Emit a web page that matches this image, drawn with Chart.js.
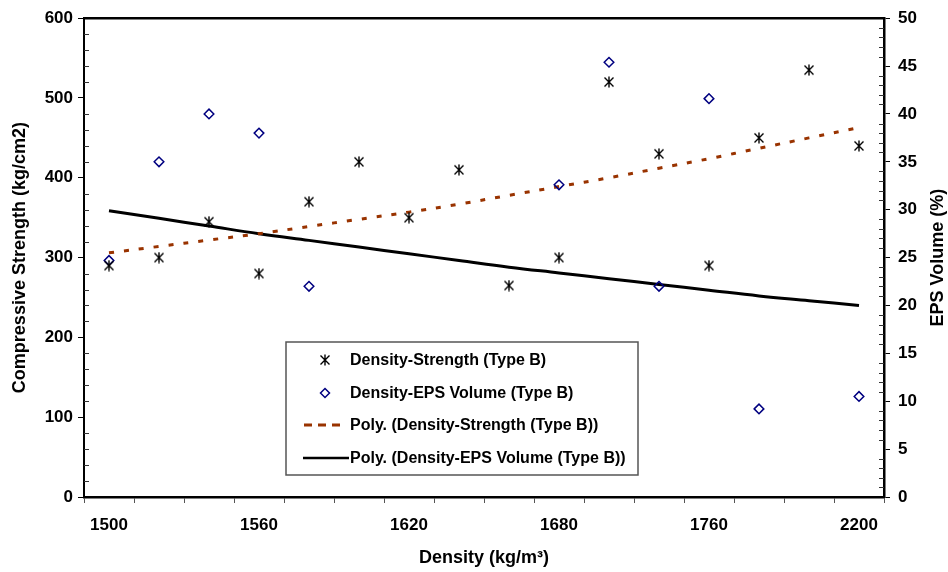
<!DOCTYPE html>
<html>
<head>
<meta charset="utf-8">
<script src="https://cdn.jsdelivr.net/npm/chart.js@4/dist/chart.umd.min.js"></script>
<style>
  html, body { margin: 0; padding: 0; background: #fff; }
  #wrap { width: 948px; height: 572px; }
</style>
</head>
<body>
<div id="wrap"><canvas id="chart" width="948" height="572"></canvas></div>
<script>
// === Datos ===
const densities = ['1500', '1520', '1540', '1560', '1580', '1600', '1620', '1640',
                   '1660', '1680', '1700', '1720', '1760', '1800', '2000', '2200'];
const labelEvery = 3;   // sólo 1500, 1560, 1620, 1680, 1760, 2200 visibles

const strength = [290, 300, 345, 280, 370, 420, 350, 410, 265, 300, 520, 430, 290, 450, 535, 440];
const epsVolume = [24.7, 35, 40, 38, 22, null, null, null, null, 32.6, 45.4, 22, 41.6, 9.2, null, 10.5];

// líneas de tendencia polinómica
const strengthTrend = [306, 314, 322, 330, 339, 348, 357, 367, 378, 389, 400, 412, 424, 437, 450, 463];
const epsTrend = [29.9, 29.1, 28.3, 27.5, 26.8, 26.1, 25.4, 24.7, 24.0, 23.4, 22.8, 22.2, 21.6, 21.0, 20.5, 20.0];

const leftTicks = { min: 0, max: 600, step: 100, minor: 20 };
const rightTicks = { min: 0, max: 50, step: 5, minor: 1 };

const seriesNames = [
  'Density-Strength (Type B)',
  'Density-EPS Volume (Type B)',
  'Poly. (Density-Strength (Type B))',
  'Poly. (Density-EPS Volume (Type B))'
];

const FONT = "'Liberation Sans', Arial, sans-serif";
Chart.defaults.font.family = FONT;
Chart.defaults.font.size = 17;
Chart.defaults.font.weight = 'bold';
Chart.defaults.color = '#000';

// marcador estrella estilo Excel
function makeStar() {
  const c = document.createElement('canvas');
  c.width = 12; c.height = 12;
  const g = c.getContext('2d');
  g.strokeStyle = '#000';
  g.lineWidth = 1.4;
  g.beginPath();
  g.moveTo(1.5, 1.5); g.lineTo(10.5, 10.5);
  g.moveTo(10.5, 1.5); g.lineTo(1.5, 10.5);
  g.moveTo(6, 0.5); g.lineTo(6, 11.5);
  g.stroke();
  return c;
}
const starImg = makeStar();

// marco superior, ticks menores y título del eje derecho
const frameAndMinor = {
  id: 'frameAndMinor',
  afterDraw(chart) {
    const { ctx, chartArea: a, scales } = chart;
    ctx.save();
    ctx.strokeStyle = '#000';
    ctx.lineWidth = 2.5;
    ctx.beginPath();
    ctx.moveTo(a.left - 1, a.top);
    ctx.lineTo(a.right + 1, a.top);
    ctx.stroke();

    ctx.lineWidth = 1;
    ctx.strokeStyle = '#333';
    ctx.beginPath();
    for (let v = leftTicks.min; v <= leftTicks.max; v += leftTicks.minor) {
      if (v % leftTicks.step === 0) continue;
      const y = Math.round(scales.y.getPixelForValue(v)) + 0.5;
      ctx.moveTo(a.left, y); ctx.lineTo(a.left + 5, y);
    }
    for (let v = rightTicks.min; v <= rightTicks.max; v += rightTicks.minor) {
      if (v % rightTicks.step === 0) continue;
      const y = Math.round(scales.y1.getPixelForValue(v)) + 0.5;
      ctx.moveTo(a.right - 5, y); ctx.lineTo(a.right, y);
    }
    ctx.stroke();

    ctx.fillStyle = '#000';
    ctx.font = 'bold 18px ' + FONT;
    ctx.textAlign = 'center';
    ctx.textBaseline = 'middle';
    ctx.translate(938, (a.top + a.bottom) / 2);
    ctx.rotate(-Math.PI / 2);
    ctx.fillText('EPS Volume (%)', 0, 0);
    ctx.restore();
  }
};

// leyenda dentro del área del gráfico
const boxLegend = {
  id: 'boxLegend',
  afterDraw(chart) {
    const ctx = chart.ctx;
    const x0 = 286, y0 = 342, w = 352, h = 133;
    const rows = [360, 393, 425, 458];
    ctx.save();
    ctx.fillStyle = '#fff';
    ctx.fillRect(x0, y0, w, h);
    ctx.strokeStyle = '#555';
    ctx.lineWidth = 1.5;
    ctx.strokeRect(x0, y0, w, h);

    ctx.drawImage(starImg, 325 - 6, rows[0] - 6);

    ctx.strokeStyle = '#000080';
    ctx.lineWidth = 1.5;
    ctx.beginPath();
    ctx.moveTo(325, rows[1] - 4.5); ctx.lineTo(329.5, rows[1]);
    ctx.lineTo(325, rows[1] + 4.5); ctx.lineTo(320.5, rows[1]);
    ctx.closePath();
    ctx.stroke();

    ctx.strokeStyle = '#993300';
    ctx.lineWidth = 3;
    ctx.setLineDash([8, 6]);
    ctx.beginPath();
    ctx.moveTo(304, rows[2]); ctx.lineTo(342, rows[2]);
    ctx.stroke();
    ctx.setLineDash([]);

    ctx.strokeStyle = '#000';
    ctx.lineWidth = 2.5;
    ctx.beginPath();
    ctx.moveTo(303, rows[3]); ctx.lineTo(349, rows[3]);
    ctx.stroke();

    ctx.fillStyle = '#000';
    ctx.font = 'bold 16px ' + FONT;
    ctx.textAlign = 'left';
    ctx.textBaseline = 'middle';
    seriesNames.forEach((t, i) => ctx.fillText(t, 350, rows[i] + 1));
    ctx.restore();
  }
};

new Chart(document.getElementById('chart'), {
  type: 'line',
  data: {
    labels: densities,
    datasets: [
      {
        label: seriesNames[0],
        data: strength,
        yAxisID: 'y',
        showLine: false,
        pointStyle: starImg,
        pointRadius: 6,
        borderColor: '#000',
        backgroundColor: '#000'
      },
      {
        label: seriesNames[1],
        data: epsVolume,
        yAxisID: 'y1',
        showLine: false,
        pointStyle: 'rectRot',
        pointRadius: 4.8,
        pointBorderWidth: 1.5,
        borderColor: '#000080',
        backgroundColor: 'rgba(0,0,0,0)'
      },
      {
        label: seriesNames[2],
        data: strengthTrend,
        yAxisID: 'y',
        borderColor: '#993300',
        borderWidth: 3,
        borderDash: [5, 10],
        pointRadius: 0,
        tension: 0.4,
        fill: false
      },
      {
        label: seriesNames[3],
        data: epsTrend,
        yAxisID: 'y1',
        borderColor: '#000',
        borderWidth: 3,
        pointRadius: 0,
        tension: 0.4,
        fill: false
      }
    ]
  },
  options: {
    responsive: false,
    animation: false,
    layout: { padding: { top: 18, left: 0, right: 0, bottom: 0 } },
    plugins: {
      legend: { display: false },
      tooltip: { enabled: false }
    },
    scales: {
      x: {
        type: 'category',
        offset: true,
        grid: { offset: true, drawOnChartArea: false, tickLength: 6, color: '#555' },
        border: { color: '#000', width: 2.5 },
        ticks: {
          autoSkip: false,
          maxRotation: 0,
          padding: 12,
          callback: function (val, i) { return i % labelEvery === 0 ? this.getLabelForValue(val) : ''; }
        },
        title: { display: true, text: 'Density (kg/m³)', font: { size: 18 }, padding: { top: 0, bottom: 3 } },
        afterFit: s => { s.height = 75; }
      },
      y: {
        position: 'left',
        min: leftTicks.min, max: leftTicks.max,
        ticks: { stepSize: leftTicks.step, padding: 5 },
        grid: { drawOnChartArea: false, tickLength: 6, color: '#000' },
        border: { color: '#000', width: 2 },
        title: { display: true, text: 'Compressive Strength (kg/cm2)', font: { size: 18 }, padding: { top: 9, bottom: 0 } },
        afterFit: s => { s.width = 84; }
      },
      y1: {
        position: 'right',
        min: rightTicks.min, max: rightTicks.max,
        ticks: { stepSize: rightTicks.step, padding: 8 },
        grid: { drawOnChartArea: false, tickLength: 6, color: '#000' },
        border: { color: '#000', width: 2.5 },
        afterFit: s => { s.width = 64; }
      }
    }
  },
  plugins: [frameAndMinor, boxLegend]
});
</script>
</body>
</html>
